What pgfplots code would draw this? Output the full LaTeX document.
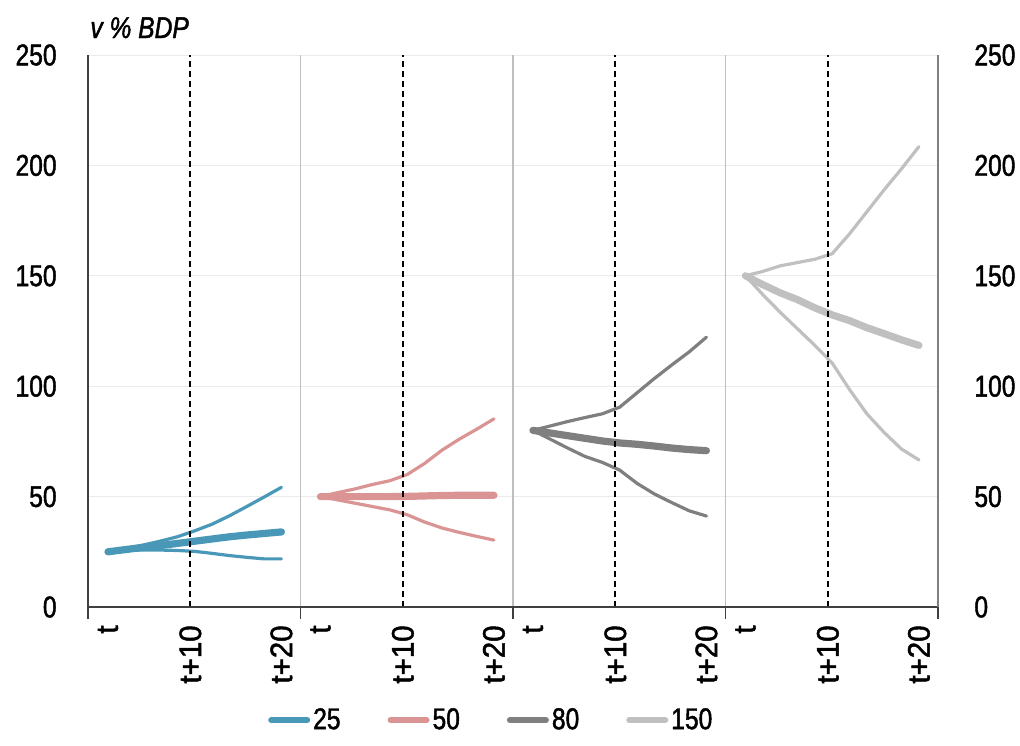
\documentclass[border=0pt]{standalone}
\usepackage{fontspec}
\setmainfont{Liberation Sans}[FakeStretch=0.82, FakeBold=1.5]
\newfontfamily\xfont{Liberation Sans}[FakeStretch=0.95, FakeBold=1.5]
\usepackage{pgfplots}
\usepackage{pgfplotstable}
\pgfplotsset{compat=1.18}

\definecolor{c25}{HTML}{4A98B8}
\definecolor{c50}{HTML}{DA9494}
\definecolor{c80}{HTML}{7F7F7F}
\definecolor{c150}{HTML}{C0C0C0}
\newcommand\lab{\fontsize{15}{18}\selectfont}
\newcommand\xlab{\xfont\fontsize{15.5}{18}\selectfont}

% i = years after t; up / mid / lo = the three paths in % of GDP
\pgfplotstableread{
i  up    mid   lo
0  25.0  25.0  25.0
2  26.4  26.0  25.6
4  28.0  27.0  25.8
6  29.8  27.8  25.8
8  31.8  28.8  25.6
10 34.5  29.8  25.2
12 37.5  30.8  24.3
14 41.3  31.8  23.3
16 45.5  32.6  22.5
18 49.8  33.3  21.8
20 54.2  34.0  21.8
}\pa
\pgfplotstableread{
i  up    mid   lo
0  50.0  50.0  50.0
2  51.8  50.0  48.5
4  53.5  50.0  47.0
6  55.5  50.0  45.5
8  57.2  50.0  44.0
10 60.0  50.1  41.8
12 65.0  50.3  38.5
14 71.0  50.5  35.8
16 76.0  50.6  33.8
18 80.5  50.6  32.0
20 85.2  50.6  30.3
}\pb
\pgfplotstableread{
i  up     mid   lo
0  80.0   80.0  80.0
2  82.0   78.8  76.0
4  84.0   77.6  72.0
6  85.8   76.4  68.2
8  87.5   75.2  65.5
10 90.5   74.3  62.0
12 97.0   73.7  56.0
14 103.5  72.9  51.2
16 109.6  72.0  47.3
18 115.5  71.3  43.6
20 122.2  70.8  41.2
}\pc
\pgfplotstableread{
i  up     mid    lo
0  150.0  150.0  150.0
2  152.0  146.0  141.5
4  154.5  142.3  133.5
6  156.0  139.2  126.0
8  157.5  135.5  118.5
10 160.0  132.3  110.5
12 169.0  129.7  98.5
14 179.0  126.5  87.5
16 189.0  123.8  79.0
18 198.5  121.0  71.5
20 208.5  118.5  66.6
}\pd

\begin{document}
\begin{tikzpicture}
\useasboundingbox (-44pt,-69pt) rectangle (466pt,303.5pt);
\begin{axis}[
  at={(0,0)}, anchor=south west,
  scale only axis, width=425pt, height=276pt,
  xmin=0, xmax=98, ymin=0, ymax=250,
  axis line style={draw=none},
  /pgf/number format/assume math mode=true,
  xtick pos=bottom, ytick pos=left,
  ytick={0,50,...,250},
  ymajorgrids,
  y grid style={color=black!8, line width=0.5pt},
  xtick={2.3,11.8,22.3,26.8,36.3,46.8,51.3,60.8,71.3,75.8,85.3,95.8},
  xticklabels={t,t+10,t+20,t,t+10,t+20,t,t+10,t+20,t,t+10,t+20},
  minor xtick={11.8,36.3,60.8,85.3},
  major tick length=0pt, minor tick length=3pt,
  tick align=inside,
  minor x tick style={draw=black!80, line width=0.6pt},
  extra x ticks={0,24.5,49,73.5,98},
  extra x tick labels={},
  extra x tick style={tick align=outside, major tick length=6pt,
    major x tick style={draw=black!75, line width=0.8pt},
    xmajorgrids, x grid style={color=black!25, line width=0.6pt}},
  yticklabel style={font=\lab, anchor=east, inner sep=0pt, xshift=-15.5pt},
  xticklabel style={font=\xlab, rotate=90, anchor=east, inner sep=0pt},
  xticklabel shift=9pt,
  legend image code/.code={\draw[#1, line cap=round] (0pt,0pt) -- (18pt,0pt);},
  legend style={at={(0.475,-0.205)}, anchor=center, draw=none, fill=none,
    legend columns=4, font=\lab, inner sep=0pt,
    /tikz/every even column/.append style={column sep=22pt},
    nodes={inner sep=1.5pt}},
  clip=false,
]
\addlegendimage{c25, line width=3pt}\addlegendentry{25}
\addlegendimage{c50, line width=3pt}\addlegendentry{50}
\addlegendimage{c80, line width=3pt}\addlegendentry{80}
\addlegendimage{c150, line width=3pt}\addlegendentry{150}

\addplot[c25, line width=1.6pt, line join=round, line cap=round, forget plot] table[x expr=\thisrow{i}+2.3, y=up]{\pa};
\addplot[c25, line width=1.6pt, line join=round, line cap=round, forget plot] table[x expr=\thisrow{i}+2.3, y=lo]{\pa};
\addplot[c25, line width=3.6pt, line join=round, line cap=round, forget plot] table[x expr=\thisrow{i}+2.3, y=mid]{\pa};

\addplot[c50, line width=1.6pt, line join=round, line cap=round, forget plot] table[x expr=\thisrow{i}+26.8, y=up]{\pb};
\addplot[c50, line width=1.6pt, line join=round, line cap=round, forget plot] table[x expr=\thisrow{i}+26.8, y=lo]{\pb};
\addplot[c50, line width=3.6pt, line join=round, line cap=round, forget plot] table[x expr=\thisrow{i}+26.8, y=mid]{\pb};

\addplot[c80, line width=1.6pt, line join=round, line cap=round, forget plot] table[x expr=\thisrow{i}+51.3, y=up]{\pc};
\addplot[c80, line width=1.6pt, line join=round, line cap=round, forget plot] table[x expr=\thisrow{i}+51.3, y=lo]{\pc};
\addplot[c80, line width=3.6pt, line join=round, line cap=round, forget plot] table[x expr=\thisrow{i}+51.3, y=mid]{\pc};

\addplot[c150, line width=1.6pt, line join=round, line cap=round, forget plot] table[x expr=\thisrow{i}+75.8, y=up]{\pd};
\addplot[c150, line width=1.6pt, line join=round, line cap=round, forget plot] table[x expr=\thisrow{i}+75.8, y=lo]{\pd};
\addplot[c150, line width=3.6pt, line join=round, line cap=round, forget plot] table[x expr=\thisrow{i}+75.8, y=mid]{\pd};

% t+10 markers
\foreach \xx in {11.8,36.3,60.8,85.3}{
  \edef\tmp{\noexpand\draw[black, line width=0.9pt, dash pattern=on 3pt off 2pt]
    (axis cs:\xx,0) -- (axis cs:\xx,250);}\tmp
}
% frame
\draw[black!75, line width=0.8pt] (rel axis cs:0,1) -- (rel axis cs:0,0) -- (rel axis cs:1,0);
\draw[black!50, line width=0.8pt] (rel axis cs:1,0) -- (rel axis cs:1,1);
\node[anchor=base west, inner sep=0pt, font=\lab\itshape]
  at ([xshift=1pt, yshift=8.5pt]rel axis cs:0,1) {v \% BDP};
\end{axis}

\begin{axis}[
  at={(0,0)}, anchor=south west,
  scale only axis, width=425pt, height=276pt,
  xmin=0, xmax=98, ymin=0, ymax=250,
  hide x axis, axis y line*=right,
  y axis line style={draw=none},
  /pgf/number format/assume math mode=true,
  ytick={0,50,...,250}, major tick length=0pt,
  yticklabel style={font=\lab, anchor=west, inner sep=0pt, xshift=18pt},
]
\addplot[draw=none] coordinates {(0,0)};
\end{axis}
\end{tikzpicture}
\end{document}
